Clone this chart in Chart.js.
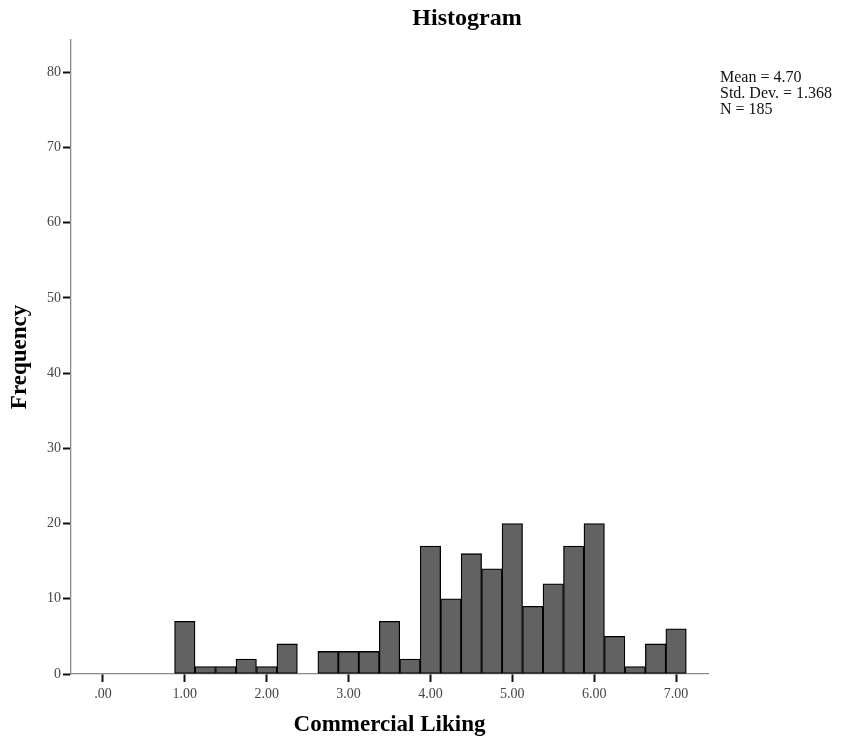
<!DOCTYPE html>
<html>
<head>
<meta charset="utf-8">
<script src="https://cdn.jsdelivr.net/npm/chart.js@4/dist/chart.umd.min.js"></script>
<style>
html,body{margin:0;padding:0;background:#fff;}
#wrap{width:845px;height:744px;}
</style>
</head>
<body>
<div id="wrap"><canvas id="c" width="845" height="744"></canvas></div>
<script>
// Bin centres (Commercial Liking, bin width 0.25) and frequencies
const binCenters = [1.00,1.25,1.50,1.75,2.00,2.25,2.50,2.75,3.00,3.25,3.50,3.75,4.00,4.25,4.50,4.75,5.00,5.25,5.50,5.75,6.00,6.25,6.50,6.75,7.00];
const frequencies = [7,1,1,2,1,4,0,3,3,3,7,2,17,10,16,14,20,9,12,17,20,5,1,4,6];
const statsLines = ["Mean = 4.70","Std. Dev. = 1.368","N = 185"];
const chartTitle = "Histogram";
const xTitle = "Commercial Liking";
const yTitle = "Frequency";

const points = binCenters.map((x,i)=>({x:x, y:frequencies[i]}));

const SERIF = "'Liberation Serif','Times New Roman',serif";

const overlay = {
  id:'overlay',
  afterDraw(chart){
    const ctx = chart.ctx;
    ctx.save();
    ctx.fillStyle = '#000';
    ctx.font = "bold 24px " + SERIF;
    ctx.textAlign = 'center';
    ctx.textBaseline = 'middle';
    ctx.fillText(chartTitle, 467, 19);
    ctx.font = "16px " + SERIF;
    ctx.fillStyle = '#111';
    ctx.textAlign = 'left';
    statsLines.forEach((t,i)=>ctx.fillText(t, 720, 78 + i*16));
    ctx.restore();
  }
};

new Chart(document.getElementById('c'), {
  type:'bar',
  data:{
    datasets:[{
      data: points,
      backgroundColor:'#626262',
      borderColor:'#000',
      borderWidth:1.3,
      borderSkipped:false,
      barPercentage:1,
      categoryPercentage:1
    }]
  },
  options:{
    responsive:false,
    animation:false,
    maintainAspectRatio:false,
    layout:{padding:{top:40,right:137,left:0,bottom:0}},
    plugins:{legend:{display:false},tooltip:{enabled:false},title:{display:false}},
    scales:{
      x:{
        type:'linear',
        min:-0.39,
        max:7.39,
        offset:false,
        afterFit(s){ s.height = 70; },
        ticks:{
          stepSize:1,
          includeBounds:false,
          padding:4,
          color:'#444',
          font:{family:SERIF,size:14},
          callback:(v)=>{ const s=Number(v).toFixed(2); return s.startsWith('0')? s.slice(1): s; }
        },
        grid:{offset:false,drawOnChartArea:false,drawTicks:true,tickLength:8,tickWidth:2,tickColor:'#111'},
        border:{display:true,color:'#8a8a8a',width:1.3},
        title:{display:true,text:xTitle,color:'#000',font:{family:SERIF,size:23,weight:'bold'},padding:{top:0,bottom:5}}
      },
      y:{
        min:0,
        max:84.3,
        afterFit(s){ s.width = 71; },
        ticks:{
          stepSize:10,
          includeBounds:false,
          padding:2,
          color:'#444',
          font:{family:SERIF,size:14}
        },
        grid:{drawOnChartArea:false,drawTicks:true,tickLength:8,tickWidth:2,tickColor:'#111'},
        border:{display:true,color:'#8a8a8a',width:1.3},
        title:{display:true,text:yTitle,color:'#000',font:{family:SERIF,size:23,weight:'bold'},padding:{top:6,bottom:0}}
      }
    }
  },
  plugins:[overlay]
});
</script>
</body>
</html>
